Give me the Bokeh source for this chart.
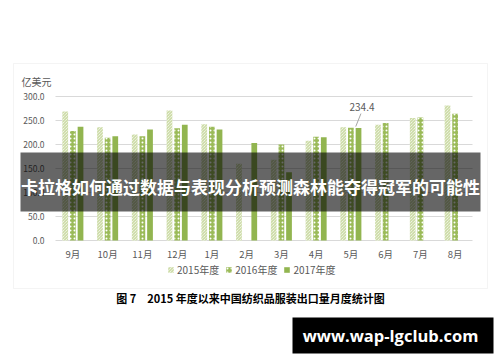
from bokeh.plotting import figure
from bokeh.models import (Range1d, BoxAnnotation, Label, Legend, LegendItem, ColumnDataSource)
from bokeh.core.properties import value
from bokeh.embed import file_html
from bokeh.resources import INLINE

nan = float("nan")

# ---- data ----
months = ["9月", "10月", "11月", "12月", "1月", "2月", "3月", "4月", "5月", "6月", "7月", "8月"]
fy2015 = [269, 236, 221, 271, 242, 160, 168, 208, 236, 241, 255, 281]
fy2016 = [228, 214, 217, 234, 237, nan, 200, 216, 235, 245, 256, 264]
fy2017 = [237, 217, 231, 241, 231, 203, 142, 215, 234.4, nan, nan, nan]
series_names = ["2015年度", "2016年度", "2017年度"]
y_ticks = [0, 50, 100, 150, 200, 250, 300]
y_tick_labels = ["0.0", "50.0", "100.0", "150.0", "200.0", "250.0", "300.0"]
unit_label = "亿美元"
caption = "图 7　2015 年度以来中国纺织品服装出口量月度统计图"
banner_text = "卡拉格如何通过数据与表现分析预测森林能夺得冠军的可能性"
watermark = "www.wap-lgclub.com"
annotated_month = "5月"

FONT = "Noto Sans CJK SC"
GRAY = "#595959"
W_PX, H_PX = 500, 362

# category index scale: one unit per month, plot area spans 55..472 px, value 0 at y=240, 300 at y=96
n = len(months)
px_per_cat = (472 - 55) / n
px_per_val = (240 - 96) / 300
x_range = Range1d(-55 / px_per_cat, (W_PX - 55) / px_per_cat)
y_range = Range1d(-(H_PX - 240) / px_per_val, 240 / px_per_val)

p = figure(width=W_PX, height=H_PX, x_range=x_range, y_range=y_range,
           output_backend="svg", toolbar_location=None,
           x_axis_location=None, y_axis_location=None, min_border=0)
p.background_fill_color = "white"
p.border_fill_color = "white"
p.outline_line_color = None
p.grid.visible = False

pos = [i + 0.5 for i in range(n)]
src = ColumnDataSource(dict(x=pos, month=months, a=fy2015, b=fy2016, c=fy2017))

# outer chart frame (screen px, origin bottom-left of canvas)
p.add_layout(BoxAnnotation(left=13, right=487, top=H_PX - 63, bottom=H_PX - 288,
                           left_units="screen", right_units="screen",
                           top_units="screen", bottom_units="screen",
                           fill_alpha=0, line_color="#d9d9d9", line_width=1, level="underlay"))

# gridlines from the ticks
p.segment(x0=[0] * len(y_ticks), x1=[n] * len(y_ticks), y0=y_ticks, y1=y_ticks,
          line_color="#d9d9d9", line_width=1)

W = 0.165
OFF = 0.22
r1 = p.vbar(x=[v - OFF for v in pos], top=fy2015, width=W,
            fill_color="white", line_color=None, hatch_pattern="left_diagonal_line",
            hatch_color="#bfd28f", hatch_scale=3, hatch_weight=1)
r2 = p.vbar(x=pos, top=fy2016, width=W,
            fill_color="#9bbb59", line_color=None, hatch_pattern="dot",
            hatch_color="white", hatch_scale=4, hatch_weight=1)
r3 = p.vbar(x=[v + OFF for v in pos], top=fy2017, width=W,
            fill_color="#92b550", line_color=None)

# tick labels
p.text(x=[0] * len(y_ticks), y=y_ticks, text=y_tick_labels, x_offset=-11,
       text_align="right", text_baseline="middle", text_font_size="8.5px",
       text_color=GRAY, text_font=value(FONT))
p.text(x=pos, y=[0] * n, text=months, y_offset=13,
       text_align="center", text_baseline="middle", text_font_size="9.5px",
       text_color=GRAY, text_font=value(FONT))

# data label for 5月 2017
i = months.index(annotated_month)
v = fy2017[i]
p.segment(x0=[pos[i] + 0.14], y0=[v + 3], x1=[pos[i] + 0.29], y1=[v + 30],
          line_color="#a6a6a6", line_width=1)
p.text(x=[pos[i] + 0.32], y=[v + 43], text=[f"{v:.1f}"],
       text_align="center", text_baseline="middle", text_font_size="10px",
       text_color=GRAY, text_font=value(FONT))

p.add_layout(Label(x=21, y=H_PX - 81, x_units="screen", y_units="screen", text=unit_label,
                   text_font=FONT, text_font_size="10px", text_color=GRAY,
                   text_baseline="middle"))

legend = Legend(items=[LegendItem(label=series_names[0], renderers=[r1]),
                       LegendItem(label=series_names[1], renderers=[r2]),
                       LegendItem(label=series_names[2], renderers=[r3])],
                orientation="horizontal", location=(167, H_PX - 277), padding=0, margin=0,
                spacing=6, glyph_width=7, glyph_height=7, label_standoff=3,
                label_height=10, label_text_font=FONT, label_text_font_size="10px",
                label_text_color=GRAY, border_line_color=None, background_fill_alpha=0)
p.add_layout(legend)

p.add_layout(Label(x=250, y=H_PX - 297, x_units="screen", y_units="screen", text=caption,
                   text_font=FONT, text_font_size="11px", text_font_style="bold",
                   text_color="black", text_align="center", text_baseline="middle"))

# dark banner overlay
p.add_layout(BoxAnnotation(left=20, right=480, top=H_PX - 152, bottom=H_PX - 211,
                           left_units="screen", right_units="screen",
                           top_units="screen", bottom_units="screen",
                           fill_color="black", fill_alpha=0.6, line_color=None, level="overlay"))
p.add_layout(Label(x=250, y=H_PX - 186, x_units="screen", y_units="screen", text=banner_text,
                   text_font=FONT, text_font_size="17px", text_font_style="bold",
                   text_color="white", text_align="center", text_baseline="middle",
                   level="overlay"))

# watermark box
p.add_layout(BoxAnnotation(left=292, right=493, top=H_PX - 317, bottom=H_PX - 353,
                           left_units="screen", right_units="screen",
                           top_units="screen", bottom_units="screen",
                           fill_color="black", fill_alpha=1, line_color=None, level="overlay"))
p.add_layout(Label(x=390, y=H_PX - 335, x_units="screen", y_units="screen", text=watermark,
                   text_font="Open Sans", text_font_size="16.5px", text_font_style="bold",
                   text_color="white", text_align="center", text_baseline="middle",
                   level="overlay"))

open("out.html", "w").write(file_html(p, INLINE))
